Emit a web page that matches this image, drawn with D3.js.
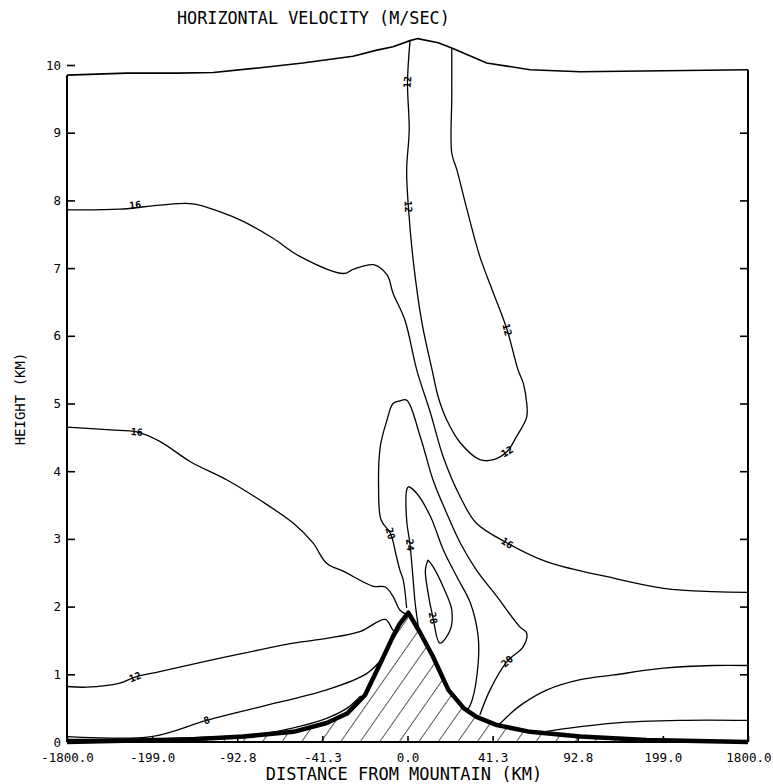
<!DOCTYPE html>
<html>
<head>
<meta charset="utf-8">
<script src="https://cdn.jsdelivr.net/npm/d3@7"></script>
<style>
  body { margin: 0; background: #fff; }
  svg { display: block; }
  text { font-family: "DejaVu Sans Mono", monospace; fill: #000; }
</style>
</head>
<body>
<div id="chart"></div>
<script>
// Distance axis is a stretched coordinate: ticks are evenly spaced grid indices
const xTickLabels = ["-1800.0", "-199.0", "-92.8", "-41.3", "0.0", "41.3", "92.8", "199.0", "1800.0"];
const yTicks = [0, 1, 2, 3, 4, 5, 6, 7, 8, 9, 10];

// [grid index, height km]
const modelTop = [[0, 9.85], [0.70, 9.88], [1.29, 9.88], [1.72, 9.89], [2.27, 9.96], [2.77, 10.03], [3.36, 10.13],
  [3.64, 10.22], [3.83, 10.27], [4.03, 10.36], [4.12, 10.39], [4.36, 10.33], [4.52, 10.25], [4.93, 10.03],
  [5.44, 9.93], [6.03, 9.90], [8, 9.93]];

const terrain = [[0, 0], [1.48, 0.04], [2.07, 0.08], [2.66, 0.15], [3.05, 0.28], [3.29, 0.42], [3.50, 0.69],
  [3.68, 1.16], [3.83, 1.56], [3.91, 1.75], [4.01, 1.91], [4.15, 1.61], [4.30, 1.26], [4.48, 0.77],
  [4.66, 0.50], [4.81, 0.37], [5.05, 0.25], [5.44, 0.15], [6.03, 0.08], [6.81, 0.03], [8, 0]];

// contour lines (m/s)
const c12Top = [[4.03, 10.36], [4.00, 9.75], [4.02, 9.04], [3.99, 8.45], [4.01, 7.91], [4.07, 7.08], [4.17, 6.19],
  [4.29, 5.49], [4.36, 5.10], [4.46, 4.76], [4.62, 4.42], [4.85, 4.17], [5.01, 4.17], [5.17, 4.29], [5.28, 4.51],
  [5.40, 4.80], [5.40, 5.01], [5.36, 5.30], [5.30, 5.49], [5.17, 6.09], [5.01, 6.63], [4.85, 7.17], [4.70, 7.86],
  [4.58, 8.45], [4.52, 8.70], [4.52, 9.53], [4.52, 10.25]];

const c16Upper = [[0, 7.86], [0.62, 7.87], [1.09, 7.93], [1.48, 7.95], [1.80, 7.83], [2.07, 7.69], [2.42, 7.44],
  [2.74, 7.17], [3.25, 6.92], [3.36, 6.98], [3.60, 7.05], [3.76, 6.90], [3.83, 6.63], [3.97, 6.23], [4.11, 5.49],
  [4.27, 4.86], [4.42, 4.21], [4.62, 3.62], [4.81, 3.23], [5.17, 2.94], [5.64, 2.66], [6.42, 2.42], [7.01, 2.27],
  [7.59, 2.22], [8, 2.21]];

const c16Lower = [[0, 4.65], [0.51, 4.61], [0.82, 4.58], [1.09, 4.44], [1.45, 4.14], [1.88, 3.87], [2.27, 3.57],
  [2.66, 3.23], [2.89, 2.94], [3.05, 2.64], [3.25, 2.52], [3.60, 2.30], [3.74, 2.29], [3.83, 2.15], [3.91, 1.95],
  [3.98, 1.89]];

const c20 = [[3.99, 1.98], [3.95, 2.39], [3.91, 2.54], [3.87, 2.74], [3.80, 3.08], [3.69, 3.28], [3.66, 3.77],
  [3.68, 4.36], [3.76, 4.76], [3.83, 5.00], [3.91, 5.04], [3.99, 5.05], [4.15, 4.51], [4.30, 3.87], [4.46, 3.38],
  [4.62, 2.94], [4.81, 2.54], [5.05, 2.15], [5.32, 1.70], [5.40, 1.61], [5.36, 1.41], [5.17, 1.19], [4.97, 0.77],
  [4.85, 0.40]];

const c24 = [[4.13, 1.68], [4.09, 2.05], [4.07, 2.34], [4.03, 2.91], [3.99, 3.28], [3.99, 3.72], [4.01, 3.77],
  [4.11, 3.67], [4.27, 3.33], [4.42, 2.84], [4.58, 2.44], [4.74, 2.05], [4.83, 1.56], [4.83, 1.16], [4.76, 0.62],
  [4.71, 0.48]];

const c28 = [[4.24, 2.69], [4.21, 2.54], [4.23, 2.29], [4.30, 1.83], [4.38, 1.46], [4.50, 1.65], [4.52, 1.95],
  [4.42, 2.29], [4.30, 2.59], [4.24, 2.69]];

const c12Wind = [[0, 0.82], [0.23, 0.81], [0.62, 0.87], [0.80, 0.96], [1.09, 1.04], [1.88, 1.26], [2.66, 1.46],
  [3.05, 1.53], [3.44, 1.63], [3.74, 1.81], [3.83, 1.65], [3.86, 1.63]];

const c8Wind = [[0, 0.08], [0.99, 0.08], [1.64, 0.32], [2.27, 0.52], [3.05, 0.77], [3.52, 1.01], [3.73, 1.27]];

const c4Wind = [[0, 0.04], [1.0, 0.045], [1.64, 0.07], [2.27, 0.12], [2.66, 0.21], [3.05, 0.35], [3.29, 0.50],
  [3.45, 0.68]];

const c12Lee = [[8, 1.13], [7.59, 1.13], [7.01, 1.09], [6.42, 0.99], [6.03, 0.92], [5.64, 0.77], [5.36, 0.57],
  [5.21, 0.42], [5.07, 0.25]];

const c8Lee = [[8, 0.32], [7.20, 0.32], [6.42, 0.28], [5.87, 0.20], [5.56, 0.14]];

// contour labels: [text, grid index, height]
const contourLabels = [["12", 4.00, 9.75], ["12", 4.01, 7.91], ["12", 5.17, 6.09], ["12", 5.17, 4.29],
  ["16", 0.80, 7.93], ["16", 0.82, 4.58], ["16", 5.17, 2.94], ["20", 3.80, 3.08], ["24", 4.03, 2.91],
  ["28", 4.30, 1.83], ["20", 5.17, 1.19], ["12", 0.80, 0.96], ["8", 1.64, 0.32]];

const contourLines = [c12Top, c16Upper, c16Lower, c20, c24, c28, c12Wind, c8Wind, c4Wind, c12Lee, c8Lee];

const width = 773, height = 784;
const svg = d3.select("#chart").append("svg").attr("width", width).attr("height", height);

const x = d3.scaleLinear().domain([0, 8]).range([67, 748]);
const y = d3.scaleLinear().domain([0, 10]).range([742, 65]);

const line = d3.line().x(d => x(d[0])).y(d => y(d[1]));
const smooth = d3.line().x(d => x(d[0])).y(d => y(d[1])).curve(d3.curveCatmullRom.alpha(0.5));

// hatching for the mountain
const defs = svg.append("defs");
const pat = defs.append("pattern").attr("id", "hatch")
  .attr("patternUnits", "userSpaceOnUse").attr("width", 16).attr("height", 16)
  .attr("patternTransform", "rotate(35)");
pat.append("line").attr("x1", 0).attr("y1", 0).attr("x2", 0).attr("y2", 16)
  .attr("stroke", "#000").attr("stroke-width", 1.3);

svg.append("path")
  .attr("d", line(terrain) + "Z")
  .attr("fill", "url(#hatch)");

// contours
svg.append("g").selectAll("path")
  .data(contourLines)
  .enter().append("path")
  .attr("d", d => smooth(d))
  .attr("fill", "none")
  .attr("stroke", "#000")
  .attr("stroke-width", 1.3)
  .attr("stroke-linejoin", "round");

// model top and terrain
svg.append("path").attr("d", line(modelTop)).attr("fill", "none").attr("stroke", "#000").attr("stroke-width", 1.6);
svg.append("path").attr("d", line(terrain)).attr("fill", "none").attr("stroke", "#000")
  .attr("stroke-width", 4.5).attr("stroke-linejoin", "round");

// frame lines
const frame = svg.append("g").attr("stroke", "#000").attr("stroke-width", 2);
frame.append("line").attr("x1", x(0)).attr("x2", x(0)).attr("y1", y(0)).attr("y2", y(modelTop[0][1]));
frame.append("line").attr("x1", x(8)).attr("x2", x(8)).attr("y1", y(0)).attr("y2", y(modelTop[modelTop.length - 1][1]));
frame.append("line").attr("x1", x(0)).attr("x2", x(8)).attr("y1", y(0)).attr("y2", y(0));

// axes
const yAxis = d3.axisLeft(y).tickValues(yTicks).tickSize(-8).tickPadding(6);
const gy = svg.append("g").attr("transform", `translate(${x(0)},0)`).call(yAxis);
gy.select(".domain").remove();

const yAxisR = d3.axisRight(y).tickValues(yTicks.slice(1, 10)).tickSize(-8).tickFormat("");
const gyr = svg.append("g").attr("transform", `translate(${x(8)},0)`).call(yAxisR);
gyr.select(".domain").remove();

const xAxis = d3.axisBottom(x).tickValues(d3.range(xTickLabels.length))
  .tickFormat((d, i) => xTickLabels[i]).tickSize(-6).tickPadding(11);
const gx = svg.append("g").attr("transform", `translate(0,${y(0)})`).call(xAxis);
gx.select(".domain").remove();

[gx, gy, gyr].forEach(g => {
  g.selectAll(".tick line").attr("stroke", "#000").attr("stroke-width", 1.6);
  g.selectAll("text").attr("font-family", "DejaVu Sans Mono").attr("font-size", "12.5px").attr("fill", "#000");
});
gx.selectAll(".tick text").filter((d, i) => i === xTickLabels.length - 1)
  .attr("text-anchor", "end").attr("x", width - 2 - x(8));

// contour labels, turned along the nearest line
function angleAt(px, py) {
  let best = 0, bd = Infinity;
  contourLines.forEach(pts => {
    for (let i = 0; i < pts.length - 1; i++) {
      const ax = x(pts[i][0]), ay = y(pts[i][1]), bx = x(pts[i + 1][0]), by = y(pts[i + 1][1]);
      const dx = bx - ax, dy = by - ay, L = dx * dx + dy * dy;
      let t = L ? ((px - ax) * dx + (py - ay) * dy) / L : 0;
      t = Math.max(0, Math.min(1, t));
      const dd = Math.hypot(px - (ax + t * dx), py - (ay + t * dy));
      if (dd < bd) { bd = dd; best = Math.atan2(dy, dx) * 180 / Math.PI; }
    }
  });
  if (best > 90) best -= 180;
  if (best <= -90) best += 180;
  return best;
}

svg.append("g").selectAll("text")
  .data(contourLabels)
  .enter().append("text")
  .attr("transform", d => `translate(${x(d[1])},${y(d[2])}) rotate(${angleAt(x(d[1]), y(d[2]))})`)
  .attr("text-anchor", "middle")
  .attr("dy", "0.35em")
  .attr("font-size", "10px")
  .attr("font-weight", "bold")
  .text(d => d[0]);

// titles
svg.append("text").attr("x", 177).attr("y", 24).attr("font-size", "16.8px")
  .text("HORIZONTAL VELOCITY (M/SEC)");
svg.append("text").attr("x", 404).attr("y", 780).attr("text-anchor", "middle").attr("font-size", "17px")
  .text("DISTANCE FROM MOUNTAIN (KM)");
svg.append("text").attr("transform", "translate(25,399) rotate(-90)").attr("text-anchor", "middle")
  .attr("font-size", "14px").text("HEIGHT (KM)");
</script>
</body>
</html>
